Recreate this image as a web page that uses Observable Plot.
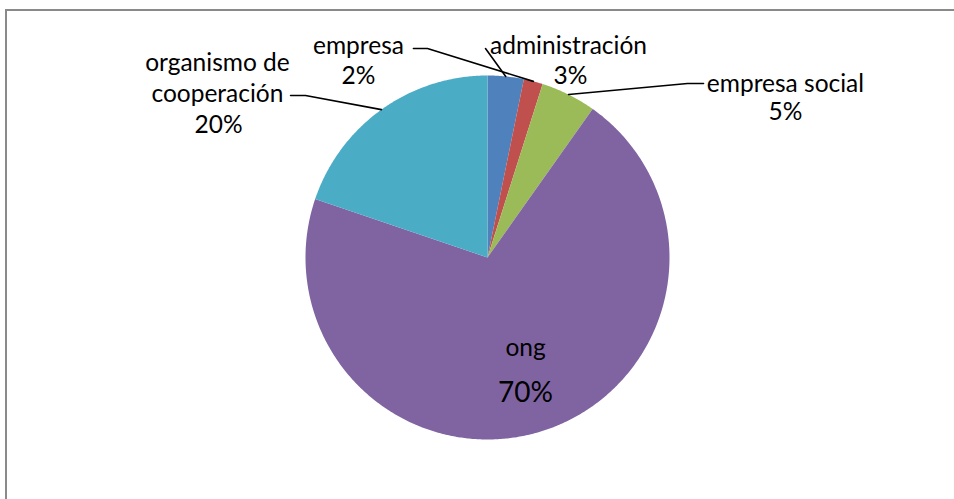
<!DOCTYPE html>
<html>
<head>
<meta charset="utf-8">
<script src="https://cdn.jsdelivr.net/npm/d3@7"></script>
<script src="https://cdn.jsdelivr.net/npm/@observablehq/plot@0.6"></script>
<style>
  html, body { margin: 0; padding: 0; background: #fff; }
  #wrap { position: relative; width: 954px; height: 499px; overflow: hidden; }
  #frame { position: absolute; left: 5px; top: 9px; width: 960px; height: 500px;
           border-left: 2px solid #8a8a8a; border-top: 2px solid #8a8a8a; pointer-events: none; }
  svg { font-family: Lato, "Open Sans", sans-serif; }
</style>
</head>
<body>
<div id="wrap"><div id="frame"></div></div>
<script>
// ---- data ----
const categories = ["administración", "empresa", "empresa social", "ong", "organismo de cooperación"];
const values = [3.2, 1.7, 4.9, 70.4, 19.8];               // percent of total
const labelNames = ["administración", "empresa", "empresa social", "ong", "organismo de\ncooperación"];
const colors = ["#4F81BD", "#C0504D", "#9BBB59", "#8064A2", "#4BACC6"];

// ---- label layout (radius units, pie centre = 0,0) ----
const namePos = [[0.445, 1.176], [-0.709, 1.176], [1.637, 0.967], [0.209, -0.50], [-1.484, 0.995]];
const pctPos  = [[0.456, 0.995], [-0.709, 0.995], [1.637, 0.797], [0.209, -0.742], [-1.478, 0.725]];
// leader elbows (null = no leader), in radius units
const leaderPts = [
  [[-0.011, 1.148]],
  [[-0.33, 1.148], [-0.407, 1.148]],
  [[1.099, 0.956], [1.187, 0.956]],
  null,
  [[-1.0, 0.89], [-1.082, 0.89]]
];

const total = d3.sum(values);
const arcs = d3.pie().sort(null).value(d => d)(values);

// slice polygons
const slicePts = [];
arcs.forEach((a, i) => {
  const name = categories[i];
  slicePts.push({name, x: 0, y: 0});
  const n = Math.max(2, Math.ceil((a.endAngle - a.startAngle) / (Math.PI / 360)));
  for (let k = 0; k <= n; k++) {
    const t = a.startAngle + (a.endAngle - a.startAngle) * k / n;
    slicePts.push({name, x: Math.sin(t), y: Math.cos(t)});
  }
  slicePts.push({name, x: 0, y: 0});
});

// leader lines
const leaderData = [];
arcs.forEach((a, i) => {
  if (!leaderPts[i]) return;
  const m = (a.startAngle + a.endAngle) / 2;
  leaderData.push({name: categories[i], x: Math.sin(m), y: Math.cos(m)});
  leaderPts[i].forEach(([x, y]) => leaderData.push({name: categories[i], x, y}));
});

const labels = categories.map((c, i) => ({
  name: labelNames[i],
  pct: d3.format(".0f")(values[i] / total * 100) + "%",
  nx: namePos[i][0], ny: namePos[i][1],
  px: pctPos[i][0], py: pctPos[i][1],
  big: c === "ong"
}));

const R = 182, cx = 487, cy = 257, W = 954, H = 499;
const chart = Plot.plot({
  width: W, height: H,
  marginLeft: cx - R, marginRight: W - cx - R,
  marginTop: cy - R, marginBottom: H - cy - R,
  x: {domain: [-1, 1], axis: null},
  y: {domain: [-1, 1], axis: null},
  color: {domain: categories, range: colors},
  style: {background: "transparent", overflow: "visible"},
  marks: [
    Plot.line(slicePts, {x: "x", y: "y", z: "name", fill: "name", stroke: "none", curve: "linear"}),
    Plot.line(leaderData, {x: "x", y: "y", z: "name", stroke: "#000", strokeWidth: 1.6, curve: "linear"}),
    Plot.text(labels.filter(d => !d.big), {x: "nx", y: "ny", text: "name", fontSize: 24.5, lineHeight: 1.28, fill: "#000"}),
    Plot.text(labels.filter(d => !d.big), {x: "px", y: "py", text: "pct", fontSize: 24.5, fill: "#000"}),
    Plot.text(labels.filter(d => d.big), {x: "nx", y: "ny", text: "name", fontSize: 24.5, fill: "#000"}),
    Plot.text(labels.filter(d => d.big), {x: "px", y: "py", text: "pct", fontSize: 28, fill: "#000"})
  ]
});
chart.style.position = "absolute";
chart.style.left = "0px";
chart.style.top = "0px";
document.getElementById("wrap").prepend(chart);
</script>
</body>
</html>
